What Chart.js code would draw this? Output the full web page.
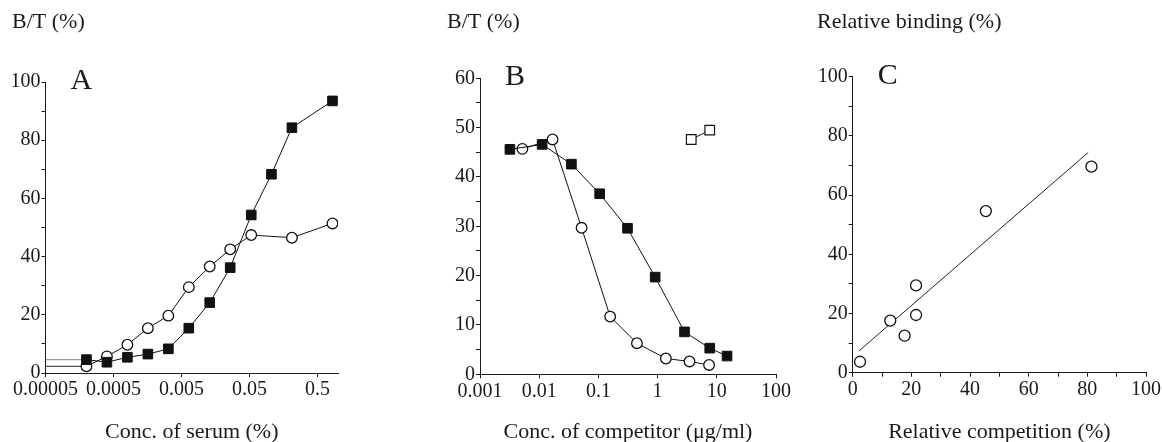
<!DOCTYPE html>
<html><head><meta charset="utf-8">
<script src="https://cdn.jsdelivr.net/npm/chart.js@4.4.1/dist/chart.umd.min.js"></script>
<style>
html,body{margin:0;padding:0;background:#fff;width:1162px;height:442px;overflow:hidden;}
.box{position:absolute;top:0;}
</style></head><body>
<div class="box" style="left:12px"><canvas id="cA" width="378" height="460"></canvas></div>
<div class="box" style="left:447px"><canvas id="cB" width="370" height="460"></canvas></div>
<div class="box" style="left:817px"><canvas id="cC" width="345" height="460"></canvas></div>
<script>
// ---------- Panel A data ----------
const serumConc   = [0.0002, 0.0004, 0.0008, 0.0016, 0.0032, 0.0064, 0.013, 0.026, 0.053, 0.105, 0.21, 0.83];
const serumSquare = [4.6, 3.7, 5.4, 6.5, 8.3, 15.4, 24.2, 36.2, 54.3, 68.3, 84.3, 93.5];
const serumCircle = [2.3, 5.7, 9.7, 15.4, 19.7, 29.5, 36.6, 42.5, 47.4, null, 46.5, 51.4];
const serumTicks  = [0.00005, 0.0005, 0.005, 0.05, 0.5];
const serumTickLabels = ['0.00005', '0.0005', '0.005', '0.05', '0.5'];

// ---------- Panel B data ----------
const compSquareX = [0.0032, 0.0112, 0.035, 0.105, 0.31, 0.91, 2.85, 7.6, 14.9];
const compSquareY = [45.6, 46.6, 42.6, 36.6, 29.6, 19.7, 8.6, 5.3, 3.7];
const compCircleX = [0.0052, 0.0168, 0.052, 0.158, 0.448, 1.38, 3.46, 7.4];
const compCircleY = [45.7, 47.6, 29.7, 11.7, 6.3, 3.2, 2.6, 1.9];
const compOpenX   = [3.7, 7.6];
const compOpenY   = [47.6, 49.5];
const compTicks   = [0.001, 0.01, 0.1, 1, 10, 100];
const compTickLabels = ['0.001', '0.01', '0.1', '1', '10', '100'];

// ---------- Panel C data ----------
const relCompetition = [2.5, 12.8, 17.7, 21.6, 21.6, 45.4, 81.4];
const relBinding     = [3.7, 17.6, 12.5, 29.5, 19.5, 54.6, 69.6];
const fitX = [2.2, 80.3];
const fitY = [7.4, 74.4];

// ---------- styling helpers ----------
const FONT = "'Liberation Serif', 'Times New Roman', serif";
const INK = '#1a1a1a';
const pts = (xs, ys) => xs.map((x, i) => ({x: x, y: ys[i]}));

const letterPlugin = {
  id: 'panelLetter',
  afterDraw(chart, args, opts) {
    const ctx = chart.ctx, a = chart.chartArea;
    ctx.save();
    ctx.font = '30px ' + FONT;
    ctx.fillStyle = INK;
    ctx.textBaseline = 'alphabetic';
    ctx.textAlign = 'left';
    ctx.fillText(opts.text, a.left + 25, a.top + 7);
    ctx.restore();
  }
};

function axisBase() {
  return {
    grid: {display: true, drawOnChartArea: false, drawTicks: true, tickLength: 4, color: INK, tickColor: INK},
    border: {display: true, color: INK, width: 1},
    ticks: {color: INK, font: {family: FONT, size: 20}, padding: 1, autoSkip: false, maxRotation: 0}
  };
}

function linearY(max, step, labelEvery, width) {
  const ax = axisBase();
  ax.type = 'linear';
  ax.min = 0; ax.max = max;
  ax.ticks.stepSize = step;
  ax.ticks.callback = v => (Math.abs(v % labelEvery) < 1e-9 ? String(v) : '');
  ax.afterFit = s => { s.width = width; };
  return ax;
}

function xAxis(ax, title, height) {
  ax.title = {display: true, text: title, color: INK, font: {family: FONT, size: 22}, padding: {top: 0, bottom: 14.8}};
  ax.afterFit = s => { s.height = height; };
  return ax;
}

function logX(min, max, vals, labels, title, height) {
  const ax = axisBase();
  ax.type = 'logarithmic';
  ax.min = min; ax.max = max;
  ax.afterBuildTicks = s => { s.ticks = vals.map(v => ({value: v})); };
  ax.ticks.callback = (v, i) => labels[i];
  return xAxis(ax, title, height);
}

function baseOptions(titleText, padBottom, padRight, letter, scales) {
  return {
    responsive: false,
    animation: false,
    events: [],
    layout: {padding: {left: 0, right: padRight, top: 0, bottom: 0}},
    plugins: {
      legend: {display: false},
      tooltip: {enabled: false},
      title: {display: true, text: titleText, align: 'start', color: INK,
              font: {family: FONT, size: 22, weight: 'normal', lineHeight: 1.2},
              padding: {top: 9, bottom: padBottom}},
      panelLetter: {text: letter}
    },
    scales: scales
  };
}

const squareStyle = {pointStyle: 'rect', pointRadius: 6.8, backgroundColor: '#111', borderColor: '#111', borderWidth: 1, showLine: true};
const circleStyle = {pointStyle: 'circle', pointRadius: 5.3, backgroundColor: '#fff', borderColor: '#111', borderWidth: 1, pointBorderWidth: 1.3, showLine: true};
const openSquareStyle = {pointStyle: 'rect', pointRadius: 6.8, backgroundColor: '#fff', borderColor: '#111', borderWidth: 1, pointBorderWidth: 1.2, showLine: true};

// ---------- Chart A ----------
const serumMin = 0.00005, serumMax = 1;
new Chart(document.getElementById('cA'), {
  type: 'scatter',
  data: {datasets: [
    Object.assign({data: pts(serumConc, serumSquare), spanGaps: true}, squareStyle),
    Object.assign({data: pts(serumConc, serumCircle), spanGaps: true}, circleStyle),
    {data: [{x: serumMin, y: serumSquare[0]}, {x: serumConc[0], y: serumSquare[0]}], showLine: true, pointRadius: 0, borderColor: '#9a9a9a', borderWidth: 1.2},
    {data: [{x: serumMin, y: serumCircle[0]}, {x: serumConc[0], y: serumCircle[0]}], showLine: true, pointRadius: 0, borderColor: '#222', borderWidth: 1}
  ]},
  options: baseOptions('B/T (%)', 46.6, 52, 'A', {
    x: logX(serumMin, serumMax, serumTicks, serumTickLabels, 'Conc. of serum (%)', 87),
    y: linearY(100, 10, 20, 33)
  }),
  plugins: [letterPlugin]
});

// ---------- Chart B ----------
new Chart(document.getElementById('cB'), {
  type: 'scatter',
  data: {datasets: [
    Object.assign({data: pts(compSquareX, compSquareY)}, squareStyle),
    Object.assign({data: pts(compOpenX, compOpenY)}, openSquareStyle),
    Object.assign({data: pts(compCircleX, compCircleY)}, circleStyle)
  ]},
  options: baseOptions('B/T (%)', 42.9, 41, 'B', {
    x: logX(0.001, 100, compTicks, compTickLabels, 'Conc. of competitor (\u03bcg/ml)', 85.7),
    y: linearY(60, 5, 10, 33)
  }),
  plugins: [letterPlugin]
});

// ---------- Chart C ----------
const cX = axisBase();
cX.type = 'linear'; cX.min = 0; cX.max = 100;
cX.ticks.stepSize = 10;
cX.ticks.callback = v => (v % 20 === 0 ? String(v) : '');
new Chart(document.getElementById('cC'), {
  type: 'scatter',
  data: {datasets: [
    Object.assign({data: pts(relCompetition, relBinding)}, circleStyle, {showLine: false, pointRadius: 5.5}),
    {data: pts(fitX, fitY), showLine: true, pointRadius: 0, borderColor: '#222', borderWidth: 1}
  ]},
  options: baseOptions('Relative binding (%)', 41.3, 13, 'C', {
    x: xAxis(cX, 'Relative competition (%)', 87.3),
    y: linearY(100, 10, 20, 35.7)
  }),
  plugins: [letterPlugin]
});
</script>
</body></html>
